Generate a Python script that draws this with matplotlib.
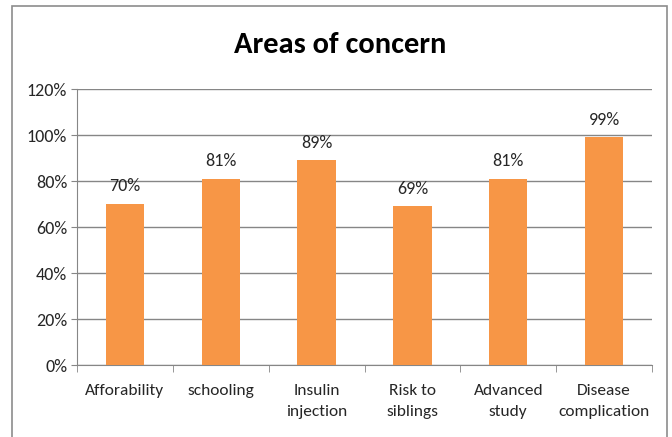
import matplotlib
matplotlib.use("Agg")
import matplotlib.pyplot as plt
from matplotlib.patches import Rectangle
from matplotlib.ticker import PercentFormatter

plt.rcParams['font.family'] = ['Carlito', 'DejaVu Sans']

categories = ["Afforability", "schooling", "Insulin\ninjection", "Risk to\nsiblings",
              "Advanced\nstudy", "Disease\ncomplication"]
values = [70, 81, 89, 69, 81, 99]
yticks = [0, 20, 40, 60, 80, 100, 120]

fig = plt.figure(figsize=(6.72, 4.37), dpi=100)
fig.patch.set_facecolor("white")
fig.patches.append(Rectangle((12/672, -0.1), (667-12)/672, 1.1 - 6/437, transform=fig.transFigure,
                             fill=False, edgecolor="#8c8c8c", linewidth=1.2))
ax = fig.add_axes([77/672, 1-365/437, (652-77)/672, (365-89)/437])

x = list(range(len(categories)))
ax.bar(x, values, width=0.4, color="#F79646", zorder=3)
for xi, v in zip(x, values):
    ax.annotate(f"{v}%", (xi, v), xytext=(0, 7), textcoords="offset points",
                ha="center", va="bottom", fontsize=13, color="#262626")

ax.set_xlim(-0.5, len(categories) - 0.5)
ax.set_ylim(0, 120)
ax.set_yticks(yticks)
ax.yaxis.set_major_formatter(PercentFormatter(decimals=0))
ax.set_xticks(x)
ax.set_xticklabels(categories, fontsize=12.5, color="#262626", linespacing=1.6)
ax.set_xticks([i + 0.5 for i in range(-1, len(categories))], minor=True)
ax.tick_params(axis="x", which="major", length=0, pad=14)
ax.tick_params(axis="x", which="minor", length=5, color="#868686")
ax.tick_params(axis="y", length=4, color="#868686", labelsize=13, labelcolor="#262626", pad=3)
ax.grid(axis="y", color="#868686", linewidth=1, zorder=0)
for s in ["top", "right"]:
    ax.spines[s].set_visible(False)
ax.spines["left"].set_color("#868686")
ax.spines["bottom"].set_color("#868686")

fig.text(340/672, 1-45/437, "Areas of concern", ha="center", va="center",
         fontsize=22, fontweight="bold", color="black")

fig.savefig("out.png", dpi=100)
